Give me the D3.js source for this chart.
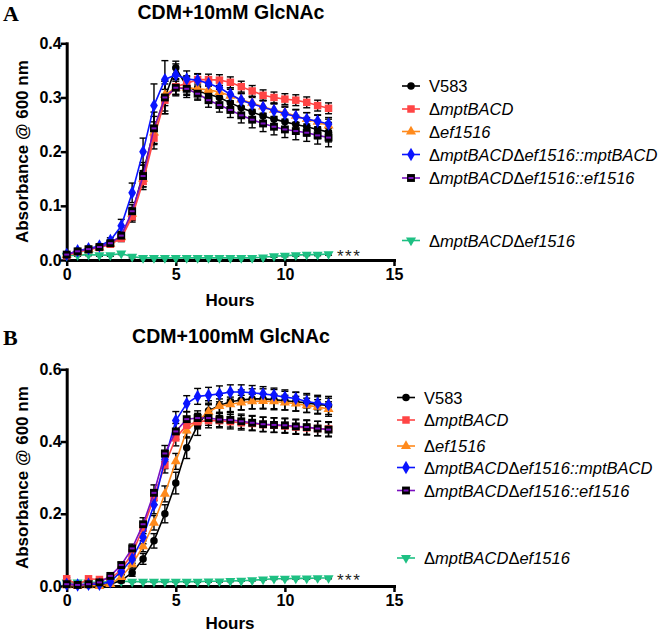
<!DOCTYPE html>
<html><head><meta charset="utf-8">
<script src="https://cdn.jsdelivr.net/npm/d3@7/dist/d3.min.js"></script>
<style>body{margin:0;background:#fff}svg{display:block}</style>
</head><body><svg id="c" width="666" height="632"></svg>
<script>
// ---------- data ----------
const hours = [0,0.5,1,1.5,2,2.5,3,3.5,4,4.5,5,5.5,6,6.5,7,7.5,8,8.5,9,9.5,10,10.5,11,11.5,12];
const seriesNames = ["V583","ΔmptBACD","Δef1516","ΔmptBACDΔef1516::mptBACD","ΔmptBACDΔef1516::ef1516","ΔmptBACDΔef1516"];
const seriesColors = ["#000000","#FF4545","#FF8A1C","#0A14FF","#7A10C0","#1EC083"];

// Panel A: CDM+10mM GlcNAc
const titleA = "CDM+10mM GlcNAc";
const yTicksA = [0.0,0.1,0.2,0.3,0.4];
const xTicks = [0,5,10,15];
const a_V583  = [0.010,0.016,0.020,0.024,0.031,0.044,0.085,0.160,0.240,0.300,0.355,0.320,0.312,0.306,0.300,0.290,0.281,0.273,0.266,0.260,0.255,0.250,0.246,0.241,0.236];
const a_mpt   = [0.008,0.015,0.019,0.023,0.029,0.040,0.080,0.145,0.225,0.295,0.320,0.326,0.333,0.333,0.332,0.328,0.320,0.312,0.304,0.300,0.297,0.295,0.291,0.285,0.280];
const a_ef    = [0.009,0.015,0.020,0.023,0.030,0.042,0.085,0.150,0.235,0.305,0.318,0.318,0.316,0.314,0.310,0.303,0.296,0.290,0.283,0.277,0.272,0.266,0.260,0.255,0.248];
const a_comp1 = [0.010,0.017,0.021,0.026,0.036,0.063,0.124,0.200,0.285,0.333,0.342,0.334,0.332,0.326,0.318,0.306,0.295,0.288,0.282,0.276,0.270,0.265,0.260,0.256,0.251];
const a_comp2 = [0.010,0.016,0.020,0.024,0.031,0.045,0.090,0.155,0.243,0.300,0.318,0.316,0.307,0.295,0.286,0.277,0.267,0.259,0.252,0.246,0.241,0.238,0.235,0.230,0.226];
const a_dbl   = [0.008,0.009,0.010,0.009,0.009,0.012,0.006,0.004,0.004,0.004,0.004,0.004,0.004,0.004,0.004,0.004,0.004,0.004,0.005,0.007,0.008,0.009,0.010,0.010,0.011];
const ea_V583  = [0.002,0.002,0.002,0.003,0.004,0.008,0.012,0.020,0.025,0.030,0.012,0.020,0.015,0.015,0.015,0.015,0.016,0.016,0.016,0.016,0.017,0.017,0.017,0.017,0.018];
const ea_mpt   = [0.002,0.002,0.002,0.003,0.004,0.006,0.010,0.015,0.020,0.020,0.015,0.012,0.010,0.010,0.010,0.010,0.010,0.010,0.010,0.010,0.010,0.010,0.010,0.010,0.010];
const ea_ef    = [0.002,0.002,0.002,0.003,0.004,0.006,0.010,0.015,0.020,0.020,0.015,0.012,0.012,0.012,0.012,0.012,0.012,0.012,0.012,0.012,0.012,0.012,0.012,0.012,0.012];
const ea_comp1 = [0.002,0.002,0.002,0.003,0.005,0.012,0.018,0.025,0.040,0.035,0.020,0.015,0.012,0.012,0.012,0.012,0.012,0.012,0.012,0.012,0.012,0.012,0.012,0.012,0.012];
const ea_comp2 = [0.002,0.002,0.002,0.003,0.004,0.008,0.012,0.020,0.030,0.030,0.012,0.012,0.012,0.013,0.013,0.014,0.014,0.015,0.015,0.015,0.015,0.016,0.016,0.016,0.017];
const ea_dbl   = [0.002,0.002,0.002,0.002,0.002,0.002,0.002,0.002,0.002,0.002,0.002,0.002,0.002,0.002,0.002,0.002,0.002,0.002,0.002,0.002,0.002,0.002,0.002,0.002,0.002];

// Panel B: CDM+100mM GlcNAc
const titleB = "CDM+100mM GlcNAc";
const yTicksB = [0.0,0.2,0.4,0.6];
const b_V583  = [0.005,0.003,0.003,0.003,0.005,0.015,0.037,0.075,0.125,0.200,0.285,0.383,0.445,0.485,0.500,0.510,0.515,0.518,0.518,0.516,0.513,0.510,0.507,0.503,0.500];
const b_mpt   = [0.020,0.003,0.020,0.018,0.020,0.045,0.090,0.160,0.245,0.335,0.410,0.445,0.455,0.458,0.458,0.455,0.452,0.450,0.447,0.445,0.443,0.440,0.438,0.436,0.435];
const b_ef    = [0.002,0.000,0.002,0.000,0.005,0.025,0.060,0.110,0.175,0.255,0.345,0.430,0.458,0.482,0.498,0.503,0.508,0.511,0.512,0.511,0.508,0.505,0.500,0.496,0.490];
const b_comp1 = [0.005,0.003,0.005,0.005,0.012,0.040,0.075,0.135,0.225,0.350,0.458,0.505,0.525,0.528,0.532,0.537,0.537,0.535,0.532,0.528,0.523,0.519,0.511,0.506,0.502];
const b_comp2 = [0.005,0.003,0.005,0.010,0.028,0.058,0.104,0.171,0.258,0.367,0.428,0.462,0.465,0.465,0.461,0.460,0.456,0.452,0.448,0.446,0.445,0.442,0.440,0.436,0.433];
const b_dbl   = [0.010,0.010,0.010,0.010,0.012,0.013,0.012,0.012,0.012,0.012,0.012,0.012,0.012,0.013,0.013,0.014,0.015,0.016,0.018,0.020,0.020,0.021,0.021,0.022,0.022];
const eb_V583  = [0.003,0.003,0.003,0.003,0.004,0.006,0.010,0.015,0.020,0.025,0.030,0.030,0.028,0.028,0.028,0.028,0.028,0.028,0.028,0.028,0.026,0.026,0.026,0.025,0.025];
const eb_mpt   = [0.003,0.003,0.003,0.003,0.004,0.006,0.010,0.015,0.020,0.022,0.022,0.020,0.020,0.020,0.020,0.020,0.020,0.020,0.020,0.020,0.020,0.020,0.020,0.020,0.020];
const eb_ef    = [0.003,0.003,0.003,0.003,0.004,0.006,0.010,0.015,0.020,0.022,0.022,0.020,0.020,0.020,0.020,0.020,0.020,0.020,0.020,0.020,0.020,0.020,0.020,0.020,0.020];
const eb_comp1 = [0.003,0.003,0.003,0.003,0.004,0.008,0.012,0.018,0.025,0.025,0.025,0.022,0.022,0.022,0.022,0.020,0.020,0.020,0.020,0.020,0.020,0.018,0.018,0.018,0.018];
const eb_comp2 = [0.003,0.003,0.003,0.003,0.004,0.008,0.012,0.018,0.022,0.022,0.022,0.020,0.020,0.020,0.020,0.020,0.020,0.020,0.020,0.020,0.020,0.020,0.020,0.020,0.020];
const eb_dbl   = [0.002,0.002,0.002,0.002,0.002,0.002,0.002,0.002,0.002,0.002,0.002,0.002,0.002,0.002,0.002,0.002,0.002,0.002,0.002,0.002,0.002,0.002,0.002,0.002,0.002];

const xLabel = "Hours";
const yLabel = "Absorbance @ 600 nm";
const sigLabel = "***";

// ---------- drawing ----------
const svg = d3.select("#c");
svg.append("rect").attr("width",666).attr("height",632).attr("fill","#fff");

const BOLD = "'Liberation Sans', Arial, sans-serif";

function marker(g, idx, cx, cy, color) {
  const t = `translate(${cx},${cy})`;
  if (idx === 0) {
    g.append("path").attr("d", d3.symbol(d3.symbolCircle, 44)()).attr("transform", t).attr("fill", color);
  } else if (idx === 1) {
    g.append("path").attr("d", d3.symbol(d3.symbolSquare, 56)()).attr("transform", t).attr("fill", color);
  } else if (idx === 2) {
    g.append("path").attr("d", d3.symbol(d3.symbolTriangle, 44)()).attr("transform", t).attr("fill", color);
  } else if (idx === 3) {
    g.append("path").attr("d", d3.symbol(d3.symbolDiamond, 52)()).attr("transform", t).attr("fill", color);
  } else if (idx === 4) {
    g.append("path").attr("d", d3.symbol(d3.symbolSquare, 62)()).attr("transform", t).attr("fill", "#000");
    g.append("rect").attr("x", cx-2.5).attr("y", cy-1).attr("width",5).attr("height",2).attr("fill", color);
  } else {
    g.append("path").attr("d", d3.symbol(d3.symbolTriangle, 44)()).attr("transform", t + " rotate(180)").attr("fill", color);
  }
}

function panel(cfg) {
  const x = d3.scaleLinear().domain([0,15]).range([66.7, 394]);
  const y = d3.scaleLinear().domain([0, cfg.yMax]).range([cfg.y0, cfg.yTop]);
  const g = svg.append("g");

  // axes
  const ya = g.append("g").attr("transform", "translate(66.7,0)")
    .call(d3.axisLeft(y).tickValues(cfg.yTicks).tickFormat(d3.format(".1f")).tickSize(6).tickSizeOuter(0));
  const xa = g.append("g").attr("transform", `translate(0,${cfg.y0})`)
    .call(d3.axisBottom(x).tickValues(xTicks).tickFormat(d3.format("d")).tickSize(6).tickSizeOuter(0));
  [ya, xa].forEach(a => {
    a.select(".domain").attr("stroke","#000").attr("stroke-width",3).attr("stroke-linecap","square");
    a.selectAll(".tick line").attr("stroke","#000").attr("stroke-width",2.5);
    a.selectAll("text").attr("font-family",BOLD).attr("font-weight","bold").attr("font-size",16).attr("fill","#000");
  });
  ya.selectAll("text").attr("x",-5);
  xa.selectAll("text").attr("y",9);

  // error bars
  cfg.series.forEach((s, i) => {
    const eg = g.append("g").attr("stroke","#000").attr("stroke-width",1.4);
    hours.forEach((h, j) => {
      const v = s[j], e = cfg.errs[i][j];
      const cx = x(h);
      eg.append("line").attr("x1",cx).attr("x2",cx).attr("y1",y(v-e)).attr("y2",y(v+e));
      eg.append("line").attr("x1",cx-3.5).attr("x2",cx+3.5).attr("y1",y(v+e)).attr("y2",y(v+e));
      eg.append("line").attr("x1",cx-3.5).attr("x2",cx+3.5).attr("y1",y(v-e)).attr("y2",y(v-e));
    });
  });

  // lines + markers
  const order = [5,0,2,1,3,4];
  order.forEach(i => {
    const s = cfg.series[i];
    const line = d3.line().x((d,j)=>x(hours[j])).y(d=>y(d));
    g.append("path").attr("d", line(s)).attr("fill","none").attr("stroke", seriesColors[i]).attr("stroke-width",1.6);
    const mg = g.append("g");
    s.forEach((v,j) => marker(mg, i, x(hours[j]), y(v), seriesColors[i]));
  });

  // texts
  svg.append("text").attr("x", 3).attr("y", cfg.letterY).text(cfg.letter)
    .attr("font-family","'Liberation Serif', 'Times New Roman', serif").attr("font-weight","bold").attr("font-size",22);
  svg.append("text").attr("x", 231).attr("y", cfg.titleY).attr("text-anchor","middle").text(cfg.title)
    .attr("font-family",BOLD).attr("font-weight","bold").attr("font-size",19.5);
  svg.append("text").attr("transform", `translate(28,${(cfg.y0+cfg.yTop)/2}) rotate(-90)`).attr("text-anchor","middle")
    .text(yLabel).attr("font-family",BOLD).attr("font-weight","bold").attr("font-size",17);
  svg.append("text").attr("x", 230).attr("y", cfg.y0 + cfg.hoursDy).attr("text-anchor","middle").text(xLabel)
    .attr("font-family",BOLD).attr("font-weight","bold").attr("font-size",17);
  svg.append("text").attr("x", 337).attr("y", y(cfg.series[5][24]) + 8).text(sigLabel)
    .attr("font-family",BOLD).attr("font-size",17).attr("letter-spacing",1.5).attr("fill","#222");

  // legend
  const lg = svg.append("g");
  seriesNames.forEach((name, i) => {
    const ly = cfg.legendY[i];
    lg.append("line").attr("x1", cfg.legendX).attr("x2", cfg.legendX + 18).attr("y1", ly).attr("y2", ly)
      .attr("stroke", seriesColors[i]).attr("stroke-width",1.6);
    marker(lg, i, cfg.legendX + 9, ly, seriesColors[i]);
    const t = lg.append("text").attr("x", cfg.legendX + 27).attr("y", ly + 6)
      .attr("font-family","'Liberation Sans', Arial, sans-serif").attr("font-size",16.5).attr("fill","#000");
    if (name.startsWith("Δ")) {
      name.split(/(Δ)/).filter(p=>p.length).forEach(p => {
        t.append("tspan").text(p).attr("font-style", p === "Δ" ? "normal" : "italic");
      });
    } else {
      t.text(name);
    }
  });
}

panel({
  letter:"A", letterY:21, title:titleA, titleY:19, yMax:0.4, y0:260, yTop:43.3, yTicks:yTicksA, hoursDy:46,
  series:[a_V583,a_mpt,a_ef,a_comp1,a_comp2,a_dbl], errs:[ea_V583,ea_mpt,ea_ef,ea_comp1,ea_comp2,ea_dbl],
  legendX:402, legendY:[86,109,131.5,154.5,178,240.5]
});
panel({
  letter:"B", letterY:345, title:titleB, titleY:343, yMax:0.6, y0:586, yTop:369.3, yTicks:yTicksB, hoursDy:43,
  series:[b_V583,b_mpt,b_ef,b_comp1,b_comp2,b_dbl], errs:[eb_V583,eb_mpt,eb_ef,eb_comp1,eb_comp2,eb_dbl],
  legendX:397, legendY:[397.5,420,446,467.5,490.5,558]
});
</script></body></html>
